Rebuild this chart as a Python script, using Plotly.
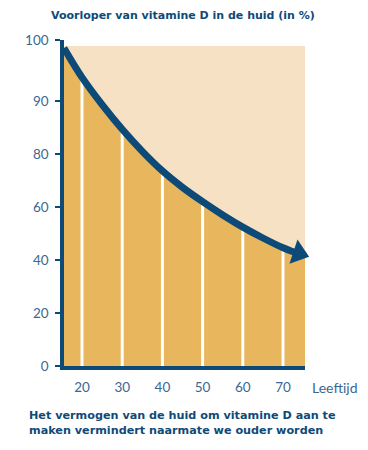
import numpy as np
import plotly.graph_objects as go

# ---- data (y in the chart's linear axis units) ----
AGE = [15.5, 20, 25, 30, 35, 40, 45, 50, 55, 60, 65, 70, 72, 73.9, 75.5]
PRECURSOR = [120.0, 108.9, 98.6, 89.3, 81.0, 73.6, 67.4, 62.0, 57.0, 52.4, 48.3, 44.6, 43.4, 42.5, 41.8]
AGE_TICKS = [20, 30, 40, 50, 60, 70]
Y_TICKVALS = [0, 20, 40, 60, 80, 100, 123]
Y_TICKTEXT = ["0", "20", "40", "60", "80", "90", "100"]

TITLE = "Voorloper van vitamine D in de huid (in %)"
XLABEL = "Leeftijd"
CAPTION = "Het vermogen van de huid om vitamine D aan te<br>maken vermindert naarmate we ouder worden"

DARK = "#0E4A78"
TICKBLUE = "#3B6790"
PEACH = "#F7E1C5"
GOLD = "#E8B65C"
FONT = "Lato"
BOLDFONT = "DejaVu Sans"

X_RANGE = [15.52, 75.47]
Y_RANGE = [0, 123]

fig = go.Figure()

# gold area under the curve
fig.add_trace(go.Scatter(x=AGE, y=PRECURSOR, mode="lines",
                         line=dict(width=0, color=GOLD, shape="spline", smoothing=1),
                         fill="tozeroy", fillcolor=GOLD, hoverinfo="skip", showlegend=False))

# white separators at each age tick, up to the curve
sx, sy = [], []
for a in AGE_TICKS:
    top = float(np.interp(a, AGE, PRECURSOR))
    sx += [a, a, None]
    sy += [0, top, None]
fig.add_trace(go.Scatter(x=sx, y=sy, mode="lines", line=dict(color="white", width=3),
                         hoverinfo="skip", showlegend=False))

# the declining curve
cx = AGE[:-1]
cy = PRECURSOR[:-1]
fig.add_trace(go.Scatter(x=cx, y=cy, mode="lines",
                         line=dict(color=DARK, width=7, shape="spline", smoothing=1),
                         cliponaxis=False, hoverinfo="skip", showlegend=False))
# arrow head at its end
fig.add_trace(go.Scatter(x=cx[-2:], y=cy[-2:], mode="markers",
                         marker=dict(symbol="triangle-up", size=[0, 22], color=DARK, opacity=1,
                                     angleref="previous", angle=1, line=dict(width=0)),
                         cliponaxis=False, hoverinfo="skip", showlegend=False))

# peach background area
fig.add_shape(type="rect", xref="x", yref="y", x0=X_RANGE[0], x1=X_RANGE[1], y0=0, y1=120.75,
              fillcolor=PEACH, line=dict(width=0), layer="below")

fig.update_xaxes(range=X_RANGE, tickvals=AGE_TICKS, ticktext=[str(a) for a in AGE_TICKS],
                 showline=True, linecolor=DARK, linewidth=4, showgrid=False, zeroline=False,
                 ticks="outside", ticklen=6, tickcolor="rgba(0,0,0,0)",
                 tickfont=dict(family=FONT, size=13.5, color=TICKBLUE))
fig.update_yaxes(range=Y_RANGE, tickvals=Y_TICKVALS, ticktext=Y_TICKTEXT,
                 showline=True, linecolor=DARK, linewidth=3.5, showgrid=False, zeroline=False,
                 ticks="outside", ticklen=5, tickwidth=1.5, tickcolor=DARK,
                 ticklabelstandoff=4,
                 tickfont=dict(family=FONT, size=13.5, color=TICKBLUE))

W, H = 368, 450
L, R, T, B = 64, 63, 40, 84
pw, ph = W - L - R, H - T - B


def px2paper(px, py):
    return (px - L) / pw, (H - B - py) / ph


tx, ty = px2paper(182.5, 15.5)
lx, ly = px2paper(310, 387)
cxp, cyp = px2paper(27, 423)

fig.add_annotation(text="<b>" + TITLE + "</b>", x=tx, y=ty, xref="paper", yref="paper",
                   xanchor="center", yanchor="middle", showarrow=False,
                   font=dict(family=BOLDFONT, size=11, color=DARK))
fig.add_annotation(text=XLABEL, x=lx, y=ly, xref="paper", yref="paper",
                   xanchor="left", yanchor="middle", showarrow=False,
                   font=dict(family=FONT, size=14, color=TICKBLUE))
fig.add_annotation(text="<b>" + CAPTION + "</b>", x=cxp, y=cyp, xref="paper", yref="paper",
                   xanchor="left", yanchor="middle", align="left", showarrow=False,
                   font=dict(family=BOLDFONT, size=11.2, color=DARK))

fig.update_layout(width=W, height=H, margin=dict(l=L, r=R, t=T, b=B),
                  paper_bgcolor="white", plot_bgcolor="white", showlegend=False)

fig.write_html("out.html", config={"displayModeBar": False},
               post_script="document.body.style.margin='0px';")
